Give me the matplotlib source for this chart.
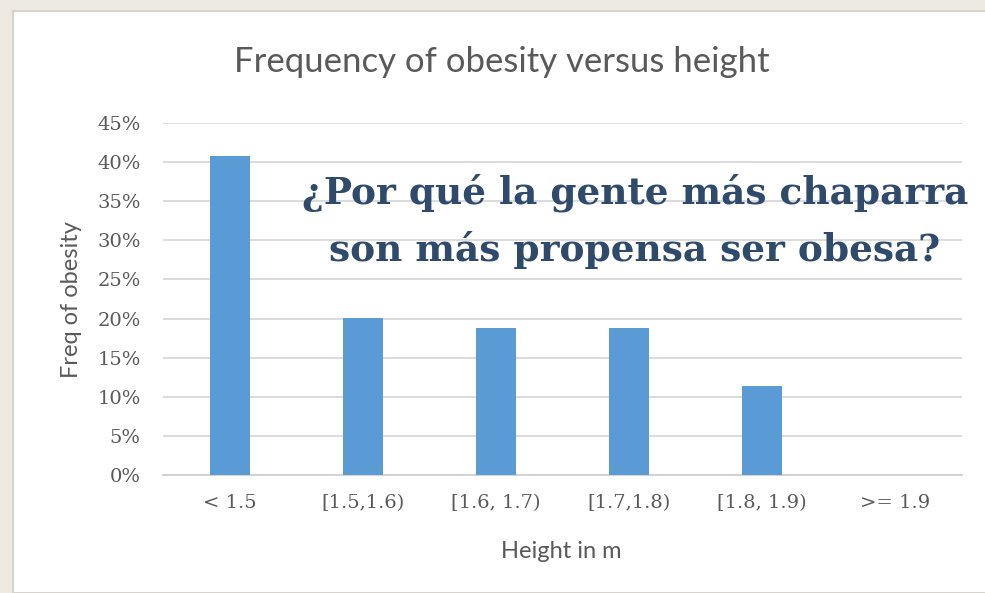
import numpy as np
import matplotlib
matplotlib.use('Agg')
from matplotlib import pyplot as plt
from matplotlib.patches import Rectangle
from matplotlib.ticker import FuncFormatter

# data
categories = ['< 1.5', '[1.5,1.6)', '[1.6, 1.7)', '[1.7,1.8)', '[1.8, 1.9)', '>= 1.9']
freq = [0.408, 0.201, 0.188, 0.188, 0.114, 0.0]
yticks = [0, 0.05, 0.10, 0.15, 0.20, 0.25, 0.30, 0.35, 0.40, 0.45]

title = 'Frequency of obesity versus height'
overlay = '¿Por qué la gente más chaparra\nson más propensa ser obesa?'

W, H = 985, 593
fig = plt.figure(figsize=(W / 100, H / 100), dpi=100)
fig.patch.set_facecolor('#eeeae2')

# white slide panel (behind the axes)
panel = Rectangle((13 / W, 0), 1, 1 - 11 / H, transform=fig.transFigure,
                  facecolor='white', edgecolor='#d6d3cd', linewidth=1.5, zorder=-5)
fig.patches.append(panel)

ax = fig.add_axes([163 / W, 1 - 475 / H, (962 - 163) / W, (475 - 123) / H])
ax.set_facecolor('none')
ax.set_zorder(1)

x = np.arange(len(categories))
ax.bar(x, freq, width=0.3, color='#5b9bd5', zorder=3)

ax.set_xlim(-0.5, len(categories) - 0.5)
ax.set_ylim(0, 0.45)
ax.set_yticks(yticks)
ax.yaxis.set_major_formatter(FuncFormatter(lambda v, p: '%d%%' % round(v * 100)))
ax.set_xticks(x)
ax.set_xticklabels(categories)
ax.grid(axis='y', color='#d9d9d9', linewidth=1.3, zorder=0)
for s in ['top', 'right', 'left']:
    ax.spines[s].set_visible(False)
ax.spines['bottom'].set_color('#d0d0d0')
ax.spines['bottom'].set_linewidth(1.3)
ax.tick_params(length=0, colors='#595959')
ax.tick_params(axis='x', pad=14)
ax.tick_params(axis='y', pad=16)
for lab in ax.get_xticklabels() + ax.get_yticklabels():
    lab.set_family('DejaVu Serif')
    lab.set_fontsize(14)

fig.text(502 / W, 1 - 62 / H, title, ha='center', va='center',
         fontsize=25, color='#595959', family='Lato')
fig.text(72 / W, 1 - 300 / H, 'Freq of obesity', rotation=90, ha='center', va='center',
         fontsize=17, color='#595959', family='Lato')
fig.text(561 / W, 1 - 551 / H, 'Height in m', ha='center', va='center',
         fontsize=17, color='#595959', family='Lato')

fig.text(635 / W, 1 - 221 / H, overlay, ha='center', va='center', fontsize=27,
         fontweight='bold', color='#2f4a6b', family='DejaVu Serif', linespacing=1.62,
         zorder=5)

fig.savefig('out.png', dpi=100, facecolor=fig.get_facecolor())
